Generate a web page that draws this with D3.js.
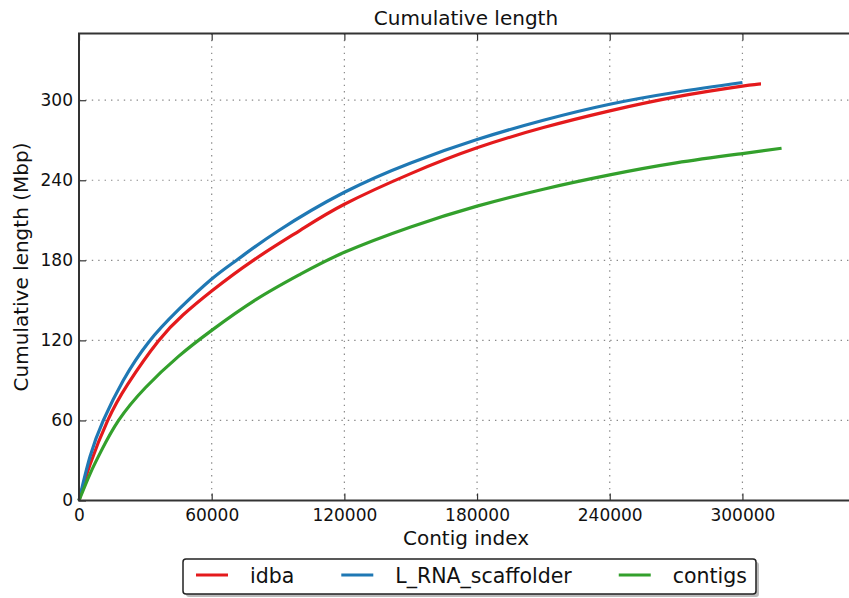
<!DOCTYPE html>
<html>
<head>
<meta charset="utf-8">
<script src="https://cdn.jsdelivr.net/npm/d3@7"></script>
<style>
	body { margin: 0; background: #fff; }
	text { font-family: "DejaVu Sans", sans-serif; fill: #111; }
	.grid line { stroke: #8a8a8a; stroke-width: 1.2; stroke-dasharray: 1.4, 5; }
	.tick-mark { stroke: #333; stroke-width: 1.2; }
</style>
</head>
<body>
<div class="cum-plot"></div>
<script>
// chart values
var SERIES_NAMES = ['idba', 'L_RNA_scaffolder', 'contigs'];

var idba_index = [0, 5000, 13000, 22000, 35900, 47000, 60000, 78800, 100000, 120000, 150000, 180000, 210000, 240000, 270000, 300000, 308400];
var idba_mbp = [0, 27, 60, 87, 119.5, 139, 157, 180, 202.5, 222, 245, 264.3, 279.5, 292, 302.5, 310.5, 312.2];

var scaffolder_index = [0, 5000, 11000, 20000, 31400, 45000, 60000, 72000, 90000, 120000, 150000, 180000, 210000, 240000, 270000, 300000];
var scaffolder_mbp = [0, 33, 60, 90, 118.5, 143, 166, 181, 202, 231, 253, 270.5, 285, 297, 306, 313.3];

var contigs_index = [0, 5000, 10000, 17900, 30000, 45000, 60000, 80000, 100000, 120000, 150000, 180000, 210000, 240000, 270000, 300000, 317700];
var contigs_mbp = [0, 20, 37, 60, 84.5, 108, 127.5, 150.5, 169.5, 186, 205, 220.6, 233.3, 244, 253, 260, 264];

var X_TICKS = [0, 60000, 120000, 180000, 240000, 300000];
var Y_TICKS = [0, 60, 120, 180, 240, 300];

var DEFAULTS = {
	width : 849,
	height : 598,
	tick_len : 7,
	colors : ['#e41a1c', '#1f78b4', '#33a02c']
};

var margin = { top : 33.5, left : 79, bottom : 97.5 };
var plotBottom = DEFAULTS.height - margin.bottom;
var plotRight = 853;	// right spine sits just off the canvas

var svg = d3.select(".cum-plot").append("svg")
	.attr("width", DEFAULTS.width)
	.attr("height", DEFAULTS.height);

var xScale = d3.scaleLinear().domain([0, 350000]).range([margin.left, plotRight]);
var yScale = d3.scaleLinear().domain([0, 350]).range([plotBottom, margin.top]);

var series = [
	{ name : SERIES_NAMES[0], xs : idba_index, ys : idba_mbp },
	{ name : SERIES_NAMES[1], xs : scaffolder_index, ys : scaffolder_mbp },
	{ name : SERIES_NAMES[2], xs : contigs_index, ys : contigs_mbp }
];

// grid
var grid = svg.append("g").attr("class", "grid");
grid.selectAll(".gx").data(X_TICKS).enter().append("line")
	.attr("x1", function ( d ) { return xScale(d); })
	.attr("x2", function ( d ) { return xScale(d); })
	.attr("y1", margin.top)
	.attr("y2", plotBottom);
grid.selectAll(".gy").data(Y_TICKS).enter().append("line")
	.attr("x1", margin.left)
	.attr("x2", plotRight)
	.attr("y1", function ( d ) { return yScale(d); })
	.attr("y2", function ( d ) { return yScale(d); });

// curves
var line = d3.line()
	.x(function ( d ) { return xScale(d[0]); })
	.y(function ( d ) { return yScale(d[1]); })
	.curve(d3.curveNatural);

svg.selectAll(".curve")
	.data(series)
	.enter()
	.append("path")
	.attr("class", "curve")
	.attr("d", function ( s ) { return line(d3.zip(s.xs, s.ys)); })
	.style("fill", "none")
	.style("stroke", function ( s, i ) { return DEFAULTS.colors[i]; })
	.style("stroke-width", 3.2)
	.style("stroke-linejoin", "round");

// axes with inward ticks, mirrored on top
var fmt = d3.format("d");
var xAxisGen = d3.axisBottom(xScale).tickValues(X_TICKS).tickFormat(fmt).tickSize(-DEFAULTS.tick_len).tickPadding(8);
var yAxisGen = d3.axisLeft(yScale).tickValues(Y_TICKS).tickFormat(fmt).tickSize(-DEFAULTS.tick_len).tickPadding(6);

var xAxis = svg.append("g").attr("transform", "translate(0," + plotBottom + ")").call(xAxisGen);
var yAxis = svg.append("g").attr("transform", "translate(" + margin.left + ",0)").call(yAxisGen);
svg.append("g").attr("transform", "translate(0," + margin.top + ")")
	.call(d3.axisTop(xScale).tickValues(X_TICKS).tickSize(-DEFAULTS.tick_len).tickFormat(""));

[xAxis, yAxis].forEach(function ( a ) {
	a.selectAll(".tick text").style("font-family", "DejaVu Sans").style("font-size", "17px").attr("fill", "#111");
});
svg.selectAll(".tick line").attr("class", "tick-mark");
svg.selectAll(".domain").remove();

// frame
svg.append("rect")
	.attr("x", margin.left)
	.attr("y", margin.top)
	.attr("width", plotRight - margin.left)
	.attr("height", plotBottom - margin.top)
	.style("fill", "none")
	.style("stroke", "#333")
	.style("stroke-width", 2);

// title + labels
svg.append("text")
	.attr("x", (margin.left + plotRight) / 2)
	.attr("y", 25)
	.attr("text-anchor", "middle")
	.style("font-size", "20px")
	.text("Cumulative length");

svg.append("text")
	.attr("x", (margin.left + plotRight) / 2)
	.attr("y", 545)
	.attr("text-anchor", "middle")
	.style("font-size", "20px")
	.text("Contig index");

svg.append("text")
	.attr("text-anchor", "middle")
	.attr("transform", "translate(28," + ((margin.top + plotBottom) / 2) + ")rotate(-90)")
	.style("font-size", "20px")
	.text("Cumulative length (Mbp)");

// legend
var legend = svg.append("g").attr("class", "legend");
var box = legend.append("rect")
	.attr("x", 183)
	.attr("y", 559)
	.attr("height", 35)
	.attr("rx", 3)
	.style("fill", "#fff")
	.style("stroke", "#222")
	.style("stroke-width", 1.5);

var cursor = 183 + 13;
series.forEach(function ( s, i ) {
	legend.append("line")
		.attr("x1", cursor)
		.attr("x2", cursor + 32)
		.attr("y1", 575)
		.attr("y2", 575)
		.style("stroke", DEFAULTS.colors[i])
		.style("stroke-width", 3);
	var t = legend.append("text")
		.attr("x", cursor + 54)
		.attr("y", 583)
		.style("font-size", "20.5px")
		.text(s.name);
	cursor = cursor + 54 + t.node().getComputedTextLength() + (i < series.length - 1 ? 47 : 9);
});
box.attr("width", cursor - 183);
// faint shadow behind the box
legend.insert("rect", ":first-child")
	.attr("x", 186)
	.attr("y", 562)
	.attr("width", cursor - 183)
	.attr("height", 35)
	.attr("rx", 3)
	.style("fill", "#bbb");
</script>
</body>
</html>
